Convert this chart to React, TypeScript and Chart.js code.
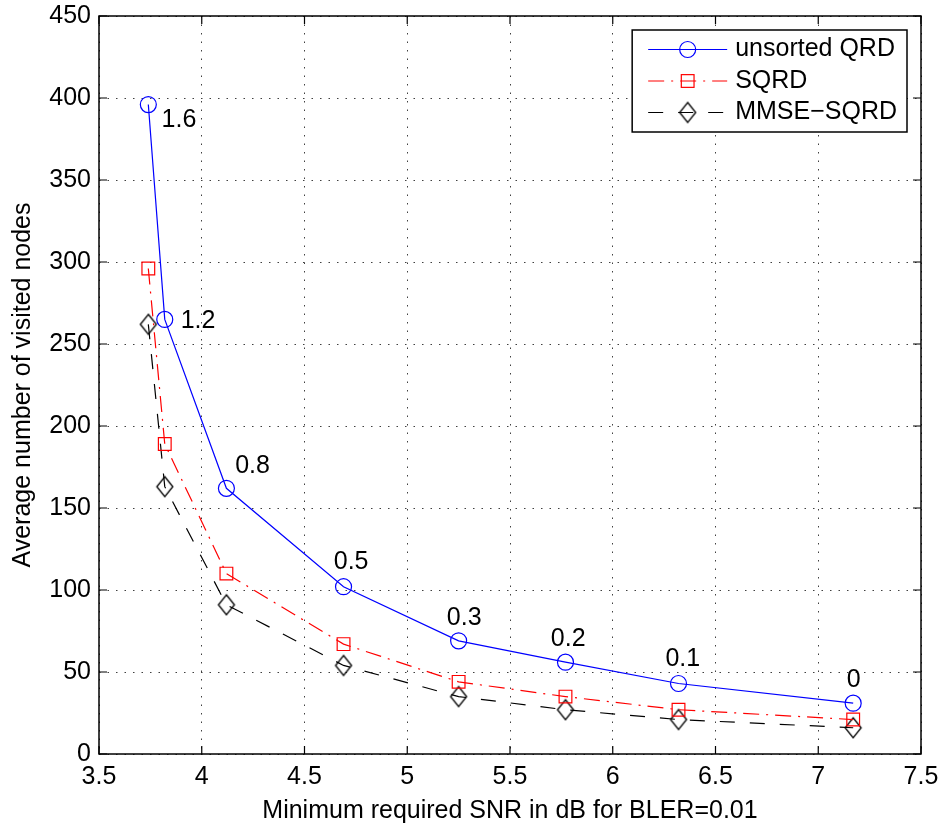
import React, { useEffect, useRef } from 'react';
import { Chart, registerables } from 'chart.js';

Chart.register(...registerables);

// ---- data ----
const snrValues = [3.74, 3.82, 4.12, 4.69, 5.25, 5.77, 6.32, 7.17];
const unsortedQRD = [396, 265, 162, 102, 69, 56, 43, 31];
const sqrdValues = [296, 189, 110, 67, 44, 35, 27, 21];
const mmseSqrdValues = [262, 163, 91, 54, 35, 27, 21, 16];
const seriesNames = ['unsorted QRD', 'SQRD', 'MMSE\u2212SQRD'];
const paramLabels = ['1.6', '1.2', '0.8', '0.5', '0.3', '0.2', '0.1', '0'];
const paramLabelX = [3.889, 3.982, 4.247, 4.727, 5.277, 5.783, 6.341, 7.173];
const paramLabelY = [386.8, 263.8, 175.8, 117.3, 83.1, 70.0, 57.8, 45.3];
const xRange = [3.5, 7.5, 0.5];
const yRange = [0, 450, 50];
const xAxisTitle = 'Minimum required SNR in dB for BLER=0.01';
const yAxisTitle = 'Average number of visited nodes';

const FAMILY = "'Liberation Sans', Arial, Helvetica, sans-serif";

function makeDiamond(color: string) {
  const w = 16, h = 20;
  const c = document.createElement('canvas');
  c.width = w + 4;
  c.height = h + 4;
  const g = c.getContext('2d')!;
  g.strokeStyle = color;
  g.lineWidth = 1.3;
  const cx = c.width / 2, cy = c.height / 2;
  g.beginPath();
  g.moveTo(cx, cy - h / 2);
  g.lineTo(cx + w / 2, cy);
  g.lineTo(cx, cy + h / 2);
  g.lineTo(cx - w / 2, cy);
  g.closePath();
  g.stroke();
  return c;
}

function drawMarker(ctx: CanvasRenderingContext2D, ds: any, x: number, y: number) {
  const style = ds.pointStyle;
  ctx.save();
  ctx.setLineDash([]);
  ctx.strokeStyle = ds.pointBorderColor;
  ctx.lineWidth = ds.pointBorderWidth;
  if (style === 'circle') {
    ctx.beginPath();
    ctx.arc(x, y, ds.pointRadius, 0, Math.PI * 2);
    ctx.stroke();
  } else if (style === 'rect') {
    const s = Math.SQRT1_2 * ds.pointRadius;
    ctx.strokeRect(x - s, y - s, 2 * s, 2 * s);
  } else if (style && style.width) {
    ctx.drawImage(style, x - style.width / 2, y - style.height / 2);
  }
  ctx.restore();
}

const framePlugin = {
  id: 'matlabFrame',
  beforeDatasetsDraw(chart: any) {
    const { ctx, chartArea } = chart;
    const { left, right, top, bottom } = chartArea;
    const tl = 8;
    ctx.save();
    ctx.setLineDash([]);
    ctx.strokeStyle = '#000';
    ctx.lineWidth = 1.5;
    ctx.strokeRect(left, top, right - left, bottom - top);
    ctx.lineWidth = 1.2;
    const xs = chart.scales.x;
    const ys = chart.scales.y;
    ctx.beginPath();
    xs.ticks.forEach((t: any) => {
      const p = xs.getPixelForValue(t.value);
      ctx.moveTo(p, bottom);
      ctx.lineTo(p, bottom - tl);
      ctx.moveTo(p, top);
      ctx.lineTo(p, top + tl);
    });
    ys.ticks.forEach((t: any) => {
      const p = ys.getPixelForValue(t.value);
      ctx.moveTo(left, p);
      ctx.lineTo(left + tl, p);
      ctx.moveTo(right, p);
      ctx.lineTo(right - tl, p);
    });
    ctx.stroke();
    ctx.restore();
  },
};

const paramLabelPlugin = {
  id: 'paramLabels',
  afterDatasetsDraw(chart: any) {
    const { ctx } = chart;
    const xs = chart.scales.x;
    const ys = chart.scales.y;
    ctx.save();
    ctx.font = `25px ${FAMILY}`;
    ctx.fillStyle = '#000';
    ctx.textAlign = 'center';
    ctx.textBaseline = 'middle';
    paramLabels.forEach((txt, i) => {
      ctx.fillText(txt, xs.getPixelForValue(paramLabelX[i]), ys.getPixelForValue(paramLabelY[i]));
    });
    ctx.restore();
  },
};

const insideLegendPlugin = {
  id: 'insideLegend',
  afterDraw(chart: any) {
    const { ctx, chartArea } = chart;
    const datasets = chart.data.datasets;
    ctx.save();
    ctx.font = `25px ${FAMILY}`;
    const maxText = Math.max(...datasets.map((d: any) => ctx.measureText(d.label).width));
    const textX = 103;
    const w = textX + maxText + 10;
    const rowH = 31.5;
    const h = 102;
    const right = chartArea.right - 14;
    const top = chartArea.top + 14;
    const left = right - w;
    ctx.fillStyle = '#fff';
    ctx.fillRect(left, top, w, h);
    ctx.strokeStyle = '#000';
    ctx.lineWidth = 1.5;
    ctx.setLineDash([]);
    ctx.strokeRect(left, top, w, h);
    datasets.forEach((ds: any, i: number) => {
      const cy = top + 19.5 + i * rowH;
      ctx.save();
      ctx.strokeStyle = ds.borderColor;
      ctx.lineWidth = ds.borderWidth;
      ctx.setLineDash(ds.borderDash || []);
      ctx.beginPath();
      ctx.moveTo(left + 16, cy);
      ctx.lineTo(left + 95, cy);
      ctx.stroke();
      ctx.restore();
      drawMarker(ctx, ds, left + 55.5, cy);
      ctx.fillStyle = '#000';
      ctx.textAlign = 'left';
      ctx.textBaseline = 'middle';
      ctx.fillText(ds.label, left + textX, cy);
    });
    ctx.restore();
  },
};

function toPoints(ys: number[]) {
  return snrValues.map((x, i) => ({ x, y: ys[i] }));
}

export default function App() {
  const ref = useRef<HTMLCanvasElement | null>(null);
  useEffect(() => {
    document.body.style.margin = '0';
    const canvas = ref.current!;
    const diamond = makeDiamond('#000');
    const tickFont = { family: FAMILY, size: 25 };
    const fmt = (v: any) => `${Number(v)}`;
    const chart = new Chart(canvas, {
      type: 'line',
      data: {
        datasets: [
          {
            label: seriesNames[0],
            data: toPoints(unsortedQRD),
            borderColor: '#0000ff',
            borderWidth: 1.2,
            pointStyle: 'circle',
            pointRadius: 8,
            pointBorderColor: '#0000ff',
            pointBorderWidth: 1.2,
            pointBackgroundColor: 'rgba(0,0,0,0)',
            tension: 0,
          },
          {
            label: seriesNames[1],
            data: toPoints(sqrdValues),
            borderColor: '#ff0000',
            borderWidth: 1.2,
            borderDash: [16, 7, 2, 7],
            pointStyle: 'rect',
            pointRadius: 9,
            pointBorderColor: '#ff0000',
            pointBorderWidth: 1.2,
            pointBackgroundColor: 'rgba(0,0,0,0)',
            tension: 0,
          },
          {
            label: seriesNames[2],
            data: toPoints(mmseSqrdValues),
            borderColor: '#000000',
            borderWidth: 1.2,
            borderDash: [15, 15],
            pointStyle: diamond as any,
            pointRadius: 10,
            pointBorderColor: '#000000',
            pointBorderWidth: 1.2,
            pointBackgroundColor: 'rgba(0,0,0,0)',
            tension: 0,
          },
        ] as any,
      },
      options: {
        animation: false,
        responsive: false,
        maintainAspectRatio: false,
        layout: { padding: { top: 16, right: 20, left: 0, bottom: 0 } },
        plugins: { legend: { display: false }, tooltip: { enabled: false } },
        scales: {
          x: {
            type: 'linear',
            min: xRange[0],
            max: xRange[1],
            ticks: { stepSize: xRange[2], font: tickFont, color: '#000', padding: 8, callback: fmt },
            grid: { color: 'rgba(0,0,0,0.75)', lineWidth: 1, drawTicks: false },
            border: { display: false, dash: [1.5, 7] },
            title: {
              display: true,
              text: xAxisTitle,
              font: tickFont,
              color: '#000',
              padding: { top: 0, bottom: 1 },
            },
            afterFit: (s: any) => {
              s.height = 73;
              s.paddingLeft = 0;
              s.paddingRight = 0;
            },
          },
          y: {
            type: 'linear',
            min: yRange[0],
            max: yRange[1],
            ticks: { stepSize: yRange[2], font: tickFont, color: '#000', padding: 8, callback: fmt },
            grid: { color: 'rgba(0,0,0,0.75)', lineWidth: 1, drawTicks: false },
            border: { display: false, dash: [1.5, 7] },
            title: {
              display: true,
              text: yAxisTitle,
              font: tickFont,
              color: '#000',
              padding: { top: 8, bottom: 0 },
            },
            afterFit: (s: any) => {
              s.width = 99;
              s.paddingTop = 0;
              s.paddingBottom = 0;
            },
          },
        },
      } as any,
      plugins: [framePlugin, paramLabelPlugin, insideLegendPlugin],
    });
    return () => chart.destroy();
  }, []);
  return (
    <div style={{ width: 941, height: 827 }}>
      <canvas ref={ref} width={941} height={827} />
    </div>
  );
}
